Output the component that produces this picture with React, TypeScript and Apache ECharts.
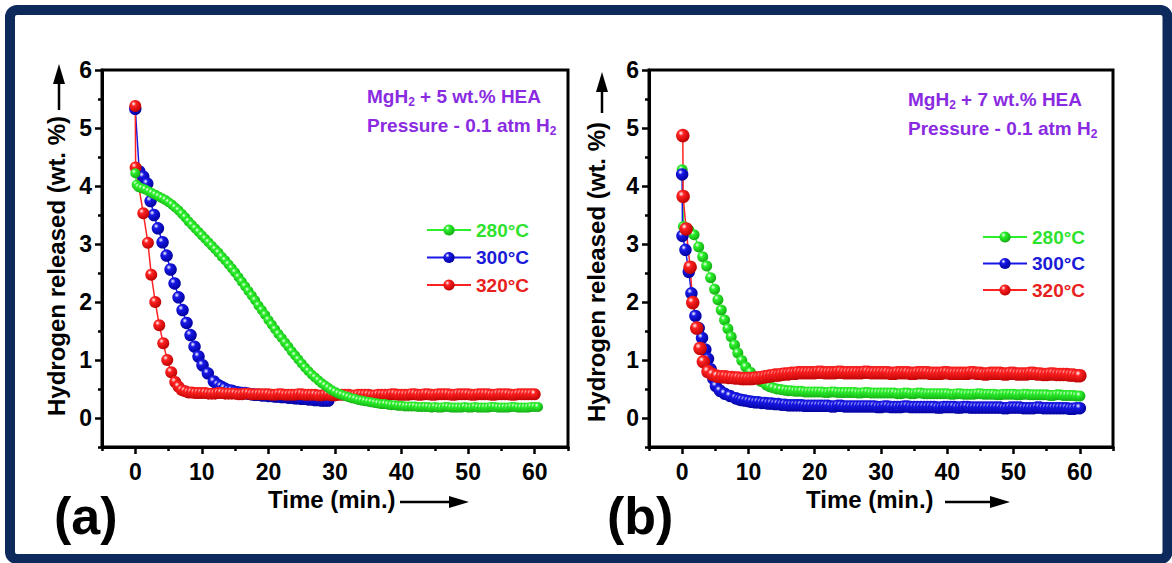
import React, { useEffect, useRef } from 'react';
import * as echarts from 'echarts';

// Axis ticks shared by both panels
const timeTicks = [0, 10, 20, 30, 40, 50, 60];
const timeMinorTicks = [-5, 5, 15, 25, 35, 45, 55, 65];
const wtTicks = [0, 1, 2, 3, 4, 5, 6];
const wtMinorTicks = [-0.5, 0.5, 1.5, 2.5, 3.5, 4.5, 5.5];

const temperatures = ['280°C', '300°C', '320°C'];

// Panel (a): MgH2 + 5 wt.% HEA — [time (min), hydrogen released (wt.%)]
const a280 = [
  [0, 4.22], [0.2, 4.02], [0.5, 3.98], [1, 3.96], [1.5, 3.94], [2, 3.91], [2.5, 3.88], [3, 3.85], [3.5, 3.82], [4, 3.79],
  [4.5, 3.76], [5, 3.72], [5.5, 3.68], [6, 3.63], [6.5, 3.58], [7, 3.52], [7.5, 3.46], [8, 3.39], [8.5, 3.33], [9, 3.27],
  [9.5, 3.21], [10, 3.15], [10.5, 3.09], [11, 3.03], [11.5, 2.97], [12, 2.91], [12.5, 2.85], [13, 2.78], [13.5, 2.72], [14, 2.65],
  [14.5, 2.58], [15, 2.51], [15.5, 2.43], [16, 2.35], [16.5, 2.27], [17, 2.19], [17.5, 2.11], [18, 2.03], [18.5, 1.94], [19, 1.86],
  [19.5, 1.78], [20, 1.69], [20.5, 1.61], [21, 1.53], [21.5, 1.45], [22, 1.38], [22.5, 1.3], [23, 1.23], [23.5, 1.15], [24, 1.08],
  [24.5, 1.01], [25, 0.94], [25.5, 0.87], [26, 0.81], [26.5, 0.75], [27, 0.7], [27.5, 0.65], [28, 0.6], [28.5, 0.56], [29, 0.52],
  [29.5, 0.48], [30, 0.45], [30.5, 0.42], [31, 0.4], [31.5, 0.38], [32, 0.36], [32.5, 0.34], [33, 0.33], [33.5, 0.31], [34, 0.3],
  [34.5, 0.29], [35, 0.28], [35.5, 0.27], [36, 0.26], [36.5, 0.25], [37, 0.24], [37.5, 0.24], [38, 0.23], [38.5, 0.22], [39, 0.22],
  [39.5, 0.21], [40, 0.21], [40.5, 0.2], [41, 0.2], [41.5, 0.2], [42, 0.2], [42.5, 0.19], [43, 0.19], [43.5, 0.19], [44, 0.19],
  [44.5, 0.18], [45, 0.19], [45.5, 0.18], [46, 0.18], [46.5, 0.19], [47, 0.19], [47.5, 0.18], [48, 0.18], [48.5, 0.18], [49, 0.18],
  [49.5, 0.19], [50, 0.18], [50.5, 0.18], [51, 0.19], [51.5, 0.18], [52, 0.18], [52.5, 0.18], [53, 0.18], [53.5, 0.19], [54, 0.19],
  [54.5, 0.18], [55, 0.18], [55.5, 0.18], [56, 0.18], [56.5, 0.19], [57, 0.19], [57.5, 0.18], [58, 0.18], [58.5, 0.18], [59, 0.18],
  [59.5, 0.19], [60, 0.19], [60.5, 0.19],
];
const a300 = [
  [0, 5.33], [0.6, 4.25], [1.2, 4.16], [1.8, 4.04], [2.3, 3.74], [2.8, 3.5], [3.4, 3.27], [4.1, 3.03], [4.7, 2.8], [5.3, 2.56],
  [5.9, 2.32], [6.5, 2.08], [7.1, 1.86], [7.7, 1.64], [8.3, 1.43], [8.9, 1.23], [9.5, 1.06], [10.1, 0.91], [10.9, 0.77], [11.8, 0.63],
  [12.4, 0.57], [12.9, 0.54], [13.4, 0.51], [14, 0.48], [14.5, 0.47], [15, 0.45], [15.5, 0.44], [16, 0.43], [16.5, 0.43], [17, 0.42],
  [17.5, 0.41], [18, 0.4], [18.5, 0.4], [19, 0.39], [19.5, 0.39], [20, 0.38], [20.5, 0.38], [21, 0.37], [21.5, 0.37], [22, 0.36],
  [22.5, 0.36], [23, 0.35], [23.5, 0.35], [24, 0.34], [24.5, 0.34], [25, 0.33], [25.5, 0.33], [26, 0.32], [26.5, 0.32], [27, 0.31],
  [27.5, 0.31], [28, 0.3], [28.5, 0.3], [29, 0.3],
];
const a320 = [
  [0, 5.38], [0.05, 4.32], [1.2, 3.53], [1.9, 3.02], [2.4, 2.47], [3.0, 2.0], [3.6, 1.6], [4.2, 1.29], [4.8, 1.0], [5.4, 0.79],
  [6.0, 0.62], [6.5, 0.54], [7, 0.48], [7.5, 0.46], [8, 0.44], [8.5, 0.44], [9, 0.43], [9.5, 0.43],
  [10, 0.43], [10.5, 0.43], [11, 0.42], [11.5, 0.42], [12, 0.42], [12.5, 0.43], [13, 0.43], [13.5, 0.42], [14, 0.42], [14.5, 0.42],
  [15, 0.42], [15.5, 0.41], [16, 0.41], [16.5, 0.42], [17, 0.42], [17.5, 0.41], [18, 0.41], [18.5, 0.41], [19, 0.41], [19.5, 0.41],
  [20, 0.41], [20.5, 0.4], [21, 0.4], [21.5, 0.41], [22, 0.41], [22.5, 0.4], [23, 0.4], [23.5, 0.4], [24, 0.4], [24.5, 0.41],
  [25, 0.41], [25.5, 0.4], [26, 0.4], [26.5, 0.4], [27, 0.4], [27.5, 0.39], [28, 0.39], [28.5, 0.4], [29, 0.4], [29.5, 0.39],
  [30, 0.39], [30.5, 0.4], [31, 0.4], [31.5, 0.4], [32, 0.4], [32.5, 0.39], [33, 0.39], [33.5, 0.4], [34, 0.4], [34.5, 0.4],
  [35, 0.4], [35.5, 0.39], [36, 0.39], [36.5, 0.4], [37, 0.4], [37.5, 0.4], [38, 0.4], [38.5, 0.41], [39, 0.41], [39.5, 0.4],
  [40, 0.4], [40.5, 0.4], [41, 0.4], [41.5, 0.41], [42, 0.41], [42.5, 0.4], [43, 0.4], [43.5, 0.41], [44, 0.41], [44.5, 0.4],
  [45, 0.4], [45.5, 0.41], [46, 0.41], [46.5, 0.41], [47, 0.41], [47.5, 0.4], [48, 0.4], [48.5, 0.41], [49, 0.41], [49.5, 0.41],
  [50, 0.41], [50.5, 0.4], [51, 0.4], [51.5, 0.41], [52, 0.41], [52.5, 0.41], [53, 0.41], [53.5, 0.4], [54, 0.4], [54.5, 0.41],
  [55, 0.41], [55.5, 0.41], [56, 0.41], [56.5, 0.4], [57, 0.4], [57.5, 0.41], [58, 0.41], [58.5, 0.41], [59, 0.41], [59.5, 0.41],
  [60, 0.41],
];

// Panel (b): MgH2 + 7 wt.% HEA
const b280 = [
  [0, 4.28], [0.2, 3.3], [1.0, 3.24], [1.8, 3.16], [2.5, 2.95], [3.1, 2.78], [3.7, 2.62], [4.3, 2.42], [4.9, 2.22], [5.4, 2.04],
  [5.9, 1.86], [6.4, 1.69], [6.9, 1.54], [7.4, 1.4], [7.9, 1.26], [8.4, 1.12], [9.0, 0.99], [9.6, 0.88], [10.3, 0.79], [11.1, 0.71],
  [11.9, 0.63], [12.7, 0.57], [13.2, 0.54], [13.7, 0.52], [14.3, 0.5], [14.9, 0.49],
  [15.5, 0.48], [16, 0.47], [16.5, 0.47], [17, 0.46], [17.5, 0.46], [18, 0.46], [18.5, 0.45], [19, 0.45], [19.5, 0.45], [20, 0.45],
  [20.5, 0.45], [21, 0.45], [21.5, 0.44], [22, 0.44], [22.5, 0.45], [23, 0.45], [23.5, 0.44], [24, 0.44], [24.5, 0.44], [25, 0.44],
  [25.5, 0.44], [26, 0.44], [26.5, 0.43], [27, 0.43], [27.5, 0.44], [28, 0.44], [28.5, 0.43], [29, 0.43], [29.5, 0.43], [30, 0.43],
  [30.5, 0.43], [31, 0.43], [31.5, 0.43], [32, 0.43], [32.5, 0.42], [33, 0.42], [33.5, 0.43], [34, 0.43], [34.5, 0.42], [35, 0.42],
  [35.5, 0.43], [36, 0.43], [36.5, 0.42], [37, 0.42], [37.5, 0.42], [38, 0.42], [38.5, 0.42], [39, 0.42], [39.5, 0.42], [40, 0.42],
  [40.5, 0.41], [41, 0.41], [41.5, 0.42], [42, 0.42], [42.5, 0.41], [43, 0.41], [43.5, 0.41], [44, 0.41], [44.5, 0.42], [45, 0.42],
  [45.5, 0.41], [46, 0.41], [46.5, 0.41], [47, 0.41], [47.5, 0.4], [48, 0.4], [48.5, 0.41], [49, 0.41], [49.5, 0.41], [50, 0.41],
  [50.5, 0.4], [51, 0.4], [51.5, 0.41], [52, 0.41], [52.5, 0.4], [53, 0.4], [53.5, 0.4], [54, 0.4], [54.5, 0.4], [55, 0.4],
  [55.5, 0.39], [56, 0.39], [56.5, 0.4], [57, 0.4], [57.5, 0.39], [58, 0.39], [58.5, 0.39], [59, 0.39], [59.5, 0.38], [60, 0.38],
];
const b300 = [
  [0, 4.2], [0.05, 3.14], [0.5, 2.9], [1.0, 2.52], [1.4, 2.15], [2.0, 1.76], [2.5, 1.55], [3.0, 1.38], [3.5, 1.18], [3.9, 1.02],
  [4.3, 0.84], [4.7, 0.68], [5.1, 0.55], [5.7, 0.47], [6.4, 0.42], [7.2, 0.38], [8.1, 0.34], [8.6, 0.32],
  [9, 0.31], [9.5, 0.3], [10, 0.29], [10.5, 0.28], [11, 0.27], [11.5, 0.27], [12, 0.26], [12.5, 0.26], [13, 0.25], [13.5, 0.25],
  [14, 0.24], [14.5, 0.24], [15, 0.23], [15.5, 0.23], [16, 0.22], [16.5, 0.22], [17, 0.22], [17.5, 0.22], [18, 0.22], [18.5, 0.21],
  [19, 0.21], [19.5, 0.21], [20, 0.21], [20.5, 0.21], [21, 0.21], [21.5, 0.21], [22, 0.21], [22.5, 0.2], [23, 0.2], [23.5, 0.21],
  [24, 0.21], [24.5, 0.2], [25, 0.2], [25.5, 0.2], [26, 0.2], [26.5, 0.2], [27, 0.2], [27.5, 0.2], [28, 0.2], [28.5, 0.2],
  [29, 0.2], [29.5, 0.19], [30, 0.19], [30.5, 0.2], [31, 0.2], [31.5, 0.19], [32, 0.19], [32.5, 0.19], [33, 0.19], [33.5, 0.2],
  [34, 0.2], [34.5, 0.19], [35, 0.19], [35.5, 0.19], [36, 0.19], [36.5, 0.19], [37, 0.19], [37.5, 0.19], [38, 0.19], [38.5, 0.18],
  [39, 0.18], [39.5, 0.19], [40, 0.19], [40.5, 0.19], [41, 0.19], [41.5, 0.18], [42, 0.18], [42.5, 0.19], [43, 0.19], [43.5, 0.18],
  [44, 0.18], [44.5, 0.18], [45, 0.18], [45.5, 0.18], [46, 0.18], [46.5, 0.18], [47, 0.18], [47.5, 0.18], [48, 0.18], [48.5, 0.17],
  [49, 0.17], [49.5, 0.18], [50, 0.18], [50.5, 0.18], [51, 0.18], [51.5, 0.17], [52, 0.17], [52.5, 0.17], [53, 0.17], [53.5, 0.18],
  [54, 0.18], [54.5, 0.17], [55, 0.17], [55.5, 0.17], [56, 0.17], [56.5, 0.17], [57, 0.17], [57.5, 0.17], [58, 0.17], [58.5, 0.16],
  [59, 0.16], [59.5, 0.17], [60, 0.17],
];
const b320 = [
  [0.1, 4.87], [0.15, 3.82], [0.6, 3.26], [1.2, 2.6], [1.6, 1.99], [2.2, 1.55], [2.7, 1.2], [3.2, 0.97], [3.9, 0.8], [4.6, 0.75],
  [5.3, 0.72], [6, 0.71], [6.5, 0.71], [7, 0.7], [7.5, 0.7], [8, 0.69], [8.5, 0.69], [9, 0.68], [9.5, 0.68], [10, 0.68],
  [10.5, 0.68], [11, 0.69], [11.5, 0.69], [12, 0.7], [12.5, 0.71], [13, 0.72], [13.5, 0.73], [14, 0.74], [14.5, 0.74], [15, 0.75],
  [15.5, 0.76], [16, 0.76], [16.5, 0.77], [17, 0.77], [17.5, 0.78], [18, 0.78], [18.5, 0.78], [19, 0.78], [19.5, 0.78], [20, 0.78],
  [20.5, 0.79], [21, 0.79], [21.5, 0.78], [22, 0.78], [22.5, 0.78], [23, 0.78], [23.5, 0.79], [24, 0.79], [24.5, 0.78], [25, 0.78],
  [25.5, 0.78], [26, 0.78], [26.5, 0.78], [27, 0.78], [27.5, 0.79], [28, 0.79], [28.5, 0.78], [29, 0.78], [29.5, 0.78], [30, 0.78],
  [30.5, 0.78], [31, 0.78], [31.5, 0.77], [32, 0.77], [32.5, 0.78], [33, 0.78], [33.5, 0.78], [34, 0.78], [34.5, 0.77], [35, 0.77],
  [35.5, 0.78], [36, 0.78], [36.5, 0.78], [37, 0.78], [37.5, 0.77], [38, 0.77], [38.5, 0.77], [39, 0.77], [39.5, 0.78], [40, 0.78],
  [40.5, 0.77], [41, 0.77], [41.5, 0.77], [42, 0.77], [42.5, 0.77], [43, 0.77], [43.5, 0.78], [44, 0.78], [44.5, 0.77], [45, 0.77],
  [45.5, 0.76], [46, 0.76], [46.5, 0.77], [47, 0.77], [47.5, 0.77], [48, 0.77], [48.5, 0.76], [49, 0.76], [49.5, 0.77], [50, 0.77],
  [50.5, 0.76], [51, 0.76], [51.5, 0.76], [52, 0.76], [52.5, 0.77], [53, 0.77], [53.5, 0.76], [54, 0.76], [54.5, 0.75], [55, 0.75],
  [55.5, 0.76], [56, 0.76], [56.5, 0.75], [57, 0.75], [57.5, 0.75], [58, 0.75], [58.5, 0.74], [59, 0.74], [59.5, 0.73], [60, 0.73],
];

const FONT = "'Liberation Sans', Arial, sans-serif";
const PURPLE = '#8a2be2';
const NAVY = '#0e2a5c';

const palette: Record<string, { base: string; dark: string; text: string }> = {
  '280°C': { base: '#2df02d', dark: '#11a811', text: '#2ee22e' },
  '300°C': { base: '#1818e6', dark: '#00009a', text: '#1a1ad8' },
  '320°C': { base: '#ff2222', dark: '#b80000', text: '#e82020' },
};

const sphere = (name: string) =>
  new echarts.graphic.RadialGradient(0.36, 0.32, 0.72, [
    { offset: 0, color: '#ffffff' },
    { offset: 0.28, color: palette[name].base },
    { offset: 1, color: palette[name].dark },
  ]);

const grids = [
  { left: 102, right: 604, top: 70, bottom: 116 },
  { left: 649, right: 59, top: 70, bottom: 116 },
];

const tickLabel = { fontSize: 23, fontWeight: 'bold' as const, color: '#000', fontFamily: FONT };

function xAxesFor(gridIndex: number) {
  return [
    {
      type: 'value', gridIndex, min: -5, max: 65, position: 'bottom',
      axisLine: { show: true, onZero: false, lineStyle: { color: '#000', width: 3 } },
      axisTick: { show: true, customValues: timeTicks, length: 7, lineStyle: { color: '#000', width: 2.5 } },
      axisLabel: { ...tickLabel, customValues: timeTicks, margin: 13 },
      splitLine: { show: false },
    },
    {
      type: 'value', gridIndex, min: -5, max: 65, position: 'bottom',
      axisLine: { show: false, onZero: false },
      axisTick: { show: true, customValues: timeMinorTicks, length: 4, lineStyle: { color: '#000', width: 2.5 } },
      axisLabel: { show: false },
      splitLine: { show: false },
    },
  ];
}

function yAxesFor(gridIndex: number) {
  return [
    {
      type: 'value', gridIndex, min: -0.5, max: 6, position: 'left',
      axisLine: { show: true, onZero: false, lineStyle: { color: '#000', width: 3 } },
      axisTick: { show: true, customValues: wtTicks, length: 7, lineStyle: { color: '#000', width: 2.5 } },
      axisLabel: { ...tickLabel, customValues: wtTicks, margin: 10 },
      splitLine: { show: false },
    },
    {
      type: 'value', gridIndex, min: -0.5, max: 6, position: 'left',
      axisLine: { show: false, onZero: false },
      axisTick: { show: true, customValues: wtMinorTicks, length: 4, lineStyle: { color: '#000', width: 2.5 } },
      axisLabel: { show: false },
      splitLine: { show: false },
    },
  ];
}

function curve(name: string, data: number[][], panel: number, size: number) {
  return {
    type: 'line',
    name,
    xAxisIndex: panel * 2,
    yAxisIndex: panel * 2,
    data,
    symbol: 'circle',
    symbolSize: size,
    showAllSymbol: true,
    lineStyle: { color: palette[name].base, width: 1.5 },
    itemStyle: { color: sphere(name), borderWidth: 0 },
    emphasis: { disabled: true },
  };
}

function legendFor(left: number, top: number, gap: number) {
  return {
    orient: 'vertical',
    left,
    top,
    itemWidth: 44,
    itemHeight: 14,
    itemGap: gap,
    selectedMode: false,
    textStyle: { fontSize: 19, fontWeight: 'bold', fontFamily: FONT },
    data: temperatures.map((n) => ({ name: n, textStyle: { color: palette[n].text } })),
  };
}

const boldText = (text: string, x: number, y: number, size: number, extra: any = {}) => ({
  type: 'text',
  x,
  y,
  silent: true,
  ...extra,
  style: {
    text,
    fontSize: size,
    fontWeight: 'bold',
    fontFamily: FONT,
    fill: '#000',
    align: 'left',
    verticalAlign: 'middle',
    ...(extra.style || {}),
  },
});

const subText = (parts: [string, string, string], x: number, y: number) => ({
  type: 'text',
  x,
  y,
  silent: true,
  style: {
    text: `{n|${parts[0]}}{s|${parts[1]}}{n|${parts[2]}}`,
    align: 'left',
    verticalAlign: 'middle',
    rich: {
      n: { fontSize: 19, fontWeight: 'bold', fontFamily: FONT, fill: PURPLE, lineHeight: 24 },
      s: { fontSize: 12, fontWeight: 'bold', fontFamily: FONT, fill: PURPLE, lineHeight: 12, verticalAlign: 'bottom' },
    },
  },
});

const arrowUp = (x: number, yBottom: number, yTip: number) => [
  { type: 'line', silent: true, shape: { x1: x, y1: yBottom, x2: x, y2: yTip + 18 }, style: { stroke: '#000', lineWidth: 2.5 } },
  { type: 'polygon', silent: true, shape: { points: [[x - 6, yTip + 20], [x + 6, yTip + 20], [x, yTip]] }, style: { fill: '#000' } },
];

const arrowRight = (xStart: number, xTip: number, y: number) => [
  { type: 'line', silent: true, shape: { x1: xStart, y1: y, x2: xTip - 18, y2: y }, style: { stroke: '#000', lineWidth: 2.5 } },
  { type: 'polygon', silent: true, shape: { points: [[xTip - 20, y - 6], [xTip - 20, y + 6], [xTip, y]] }, style: { fill: '#000' } },
];

export default function App() {
  const ref = useRef<HTMLDivElement>(null);

  useEffect(() => {
    if (!ref.current) return;
    const chart = echarts.init(ref.current, undefined, { renderer: 'svg' });
    chart.setOption({
      animation: false,
      backgroundColor: '#ffffff',
      grid: grids.map((g) => ({ ...g, show: true, borderColor: '#000', borderWidth: 3, backgroundColor: 'transparent' })),
      xAxis: [...xAxesFor(0), ...xAxesFor(1)],
      yAxis: [...yAxesFor(0), ...yAxesFor(1)],
      legend: [legendFor(421, 215.5, 8.5), legendFor(977, 222.5, 7.5)],
      series: [
        curve('300°C', a300, 0, 12.5),
        curve('320°C', a320, 0, 12),
        curve('280°C', a280, 0, 10),
        curve('280°C', b280, 1, 11),
        curve('300°C', b300, 1, 12.5),
        curve('320°C', b320, 1, 13.5),
      ],
      graphic: [
        {
          type: 'rect', silent: true, z: 100,
          shape: { x: 10, y: 10, width: 1157.5, height: 549, r: 7 },
          style: { fill: 'none', stroke: NAVY, lineWidth: 10 },
        },
        boldText('Hydrogen released (wt. %)', 56, 266, 24, { rotation: Math.PI / 2, style: { align: 'center' } }),
        boldText('Hydrogen released (wt. %)', 596, 272, 24, { rotation: Math.PI / 2, style: { align: 'center' } }),
        ...arrowUp(59, 110, 64),
        ...arrowUp(602, 113, 72),
        boldText('Time (min.)', 268, 499, 24),
        boldText('Time (min.)', 806, 499, 24),
        ...arrowRight(400, 469, 502),
        ...arrowRight(945, 1010, 502),
        boldText('(a)', 54, 516, 52),
        boldText('(b)', 607, 516, 52),
        subText(['MgH', '2', ' + 5 wt.% HEA'], 367, 96),
        subText(['Pressure - 0.1 atm H', '2', ''], 367, 125),
        subText(['MgH', '2', ' + 7 wt.% HEA'], 908, 99),
        subText(['Pressure - 0.1 atm H', '2', ''], 908, 128),
      ],
    });
    return () => chart.dispose();
  }, []);

  return (
    <div
      ref={ref}
      style={{ position: 'fixed', left: 0, top: 0, width: 1172, height: 563, background: '#fff' }}
    />
  );
}
